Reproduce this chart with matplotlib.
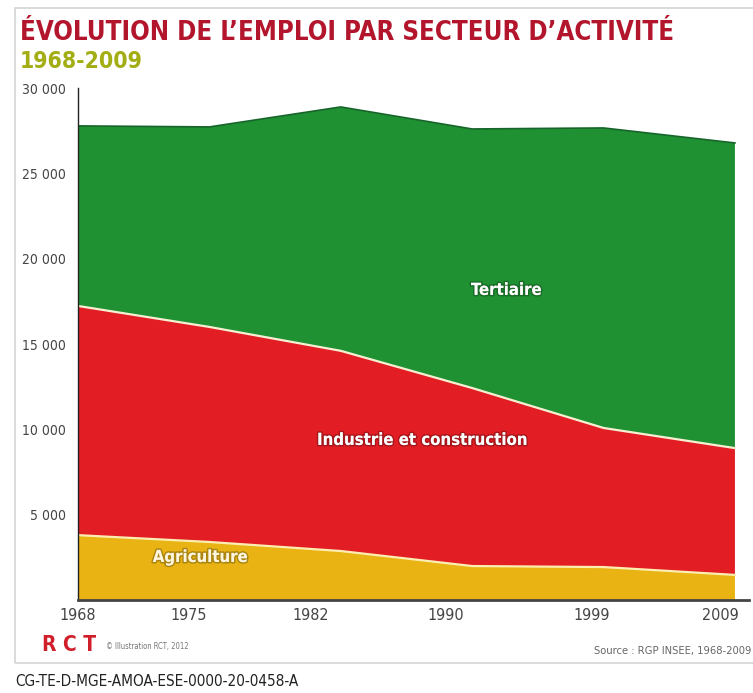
import numpy as np
import matplotlib
matplotlib.use("Agg")
import matplotlib.pyplot as plt
import matplotlib.patheffects as pe
from matplotlib.patches import Rectangle

# Employment by sector (thousands)
years = ["1968", "1975", "1982", "1990", "1999", "2009"]
agriculture = [3800, 3400, 2870, 1990, 1930, 1470]
industrie = [13430, 12600, 11730, 10430, 8150, 7430]
tertiaire = [10550, 11720, 14290, 15180, 17580, 17880]
y_ticks = [0, 5000, 10000, 15000, 20000, 25000, 30000]

NARROW = dict(family="DejaVu Sans", fontstretch="condensed")

GREEN = "#1f9133"
RED = "#e21d24"
YELLOW = "#e8b313"

fig = plt.figure(figsize=(7.53, 6.93), dpi=100)
fig.patch.set_facecolor("white")

# light grey frame around the illustration
fig.patches.append(Rectangle((15 / 753, 1 - 663 / 693), 745 / 753, 655 / 693,
                             transform=fig.transFigure, fill=False,
                             edgecolor="#d4d4d4", linewidth=1.2))

ax = fig.add_axes([78 / 753, 1 - 600 / 693, 671 / 753, 512 / 693])

x = np.arange(len(years))
ax.stackplot(x, agriculture, industrie, tertiaire,
             colors=[YELLOW, RED, GREEN], linewidth=0)

agri = np.array(agriculture)
ind_top = agri + np.array(industrie)
total = ind_top + np.array(tertiaire)
ax.plot(x, agri, color="#fbeeb0", linewidth=1.6)
ax.plot(x, ind_top, color="#f6efd2", linewidth=1.6)
ax.plot(x, total, color="#17652a", linewidth=1.2)

ax.set_xlim(0, 5.107)
ax.set_ylim(0, 30000)

ax.spines["top"].set_visible(False)
ax.spines["right"].set_visible(False)
ax.spines["left"].set_color("#222222")
ax.spines["left"].set_linewidth(1.0)
ax.spines["bottom"].set_color("#444444")
ax.spines["bottom"].set_linewidth(2.0)

ax.set_yticks(y_ticks)
ax.set_yticklabels(["" if v == 0 else f"{v:,}".replace(",", " ") for v in y_ticks],
                   fontsize=10, color="#444444", **NARROW)
# the year labels sit where the designer put them, not under each data point
ax.set_xticks([0.0, 0.84, 1.77, 2.80, 3.91, 4.89])
ax.set_xticklabels(years, fontsize=11.5, color="#444444", **NARROW)
ax.tick_params(axis="both", length=0)
ax.tick_params(axis="y", pad=9)
ax.tick_params(axis="x", pad=6)

shadow = [pe.withStroke(linewidth=2.2, foreground=(0, 0, 0, 0.25))]
ax.text(3.26, 18170, "Tertiaire", ha="center", va="center", color="white",
        fontsize=12, fontweight="bold", path_effects=shadow, **NARROW)
ax.text(2.62, 9380, "Industrie et construction", ha="center", va="center",
        color="white", fontsize=12, fontweight="bold",
        path_effects=shadow, **NARROW)
ax.text(0.93, 2520, "Agriculture", ha="center", va="center", color="#fff6dc",
        fontsize=12, fontweight="bold", path_effects=shadow, **NARROW)

# titles
fig.text(20 / 753, 1 - 33 / 693, "ÉVOLUTION DE L’EMPLOI PAR SECTEUR D’ACTIVITÉ",
         ha="left", va="center", fontsize=18.5, fontweight="bold",
         color="#b3162c", **NARROW)
fig.text(20 / 753, 1 - 62 / 693, "1968-2009", ha="left", va="center",
         fontsize=16.5, fontweight="bold", color="#a3ad14", **NARROW)

# footer
fig.text(42 / 753, 1 - 645 / 693, "R C T", ha="left", va="center",
         fontsize=15, fontweight="bold", color="#d01e2a", **NARROW)
fig.text(106 / 753, 1 - 646 / 693, "© Illustration RCT, 2012", ha="left",
         va="center", fontsize=5.5, color="#777777", **NARROW)
fig.text(751 / 753, 1 - 651 / 693, "Source : RGP INSEE, 1968-2009", ha="right",
         va="center", fontsize=8, color="#666666", **NARROW)
fig.text(15 / 753, 1 - 681 / 693, "CG-TE-D-MGE-AMOA-ESE-0000-20-0458-A",
         ha="left", va="center", fontsize=11, color="#222222", **NARROW)

fig.savefig("out.png", dpi=100)
